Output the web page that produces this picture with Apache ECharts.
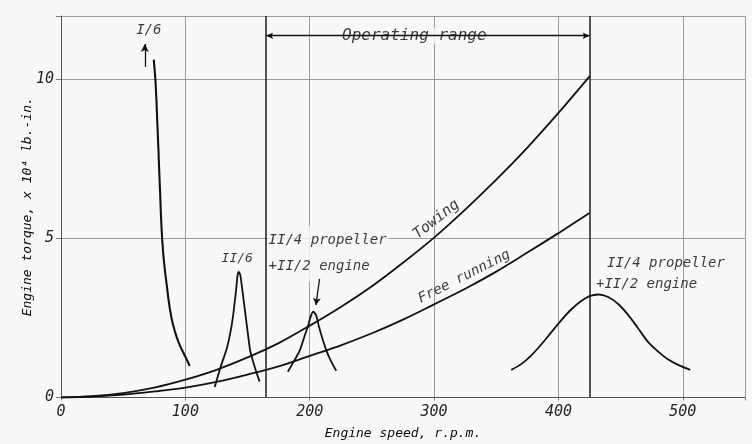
<!DOCTYPE html>
<html>
<head>
<meta charset="utf-8">
<script src="https://cdn.jsdelivr.net/npm/echarts@6/dist/echarts.min.js"></script>
<style>
  html, body { margin: 0; padding: 0; background: #f8f8f6; }
  #chart { width: 752px; height: 444px; }
</style>
</head>
<body>
<div id="chart"></div>
<script>
// Engine speed (r.p.m.) grid for the two load curves
const speedGrid = [0, 25, 50, 75, 100, 125, 150, 175, 200, 225, 250, 275, 300, 325, 350, 375, 400, 425];
// Engine torque, x10^4 lb.-in.
const towingTorque = [0, 0.04, 0.14, 0.31, 0.56, 0.87, 1.26, 1.71, 2.26, 2.85, 3.50, 4.24, 5.03, 5.91, 6.85, 7.86, 8.95, 10.1];
const freeRunningTorque = [0, 0.03, 0.09, 0.19, 0.31, 0.49, 0.72, 0.98, 1.31, 1.64, 2.02, 2.45, 2.93, 3.42, 3.96, 4.56, 5.17, 5.8];

// Resonance curves: [speed, torque]
const order1of6 = [[74.6, 10.63], [75.3, 10.3], [76, 9.95], [76.8, 9.3], [77.5, 8.6], [78.3, 7.85], [79, 7.1], [79.7, 6.45], [80.3, 5.8], [80.9, 5.3], [81.5, 4.9], [82.2, 4.52], [83, 4.2], [84, 3.85], [85, 3.55], [86.2, 3.15], [87.5, 2.8], [88.7, 2.53], [90, 2.3], [91.5, 2.09], [93, 1.9], [94.5, 1.74], [96, 1.6], [97.2, 1.5], [98.5, 1.4], [99.8, 1.3], [101, 1.2], [102.2, 1.1], [103.5, 0.99]];
const order2of6 = [[123.6, 0.33], [128.4, 0.97], [133, 1.5], [136, 2.0], [138.3, 2.55], [140.8, 3.39], [142, 3.85], [143, 3.95], [144.2, 3.85], [145.8, 3.39], [148.5, 2.55], [150.3, 2.0], [152, 1.5], [155.7, 0.97], [159.7, 0.5]];
const order2of4Low = [[182.4, 0.81], [187, 1.12], [192.2, 1.5], [196, 1.95], [198.5, 2.23], [200.8, 2.55], [203, 2.7], [205.2, 2.58], [207.4, 2.23], [210, 1.88], [213.2, 1.5], [217, 1.15], [221.3, 0.84]];
const order2of4High = [[362, 0.87], [370, 1.05], [378, 1.32], [386, 1.66], [394, 2.04], [402, 2.42], [410, 2.76], [418, 3.03], [425, 3.19], [432, 3.24], [440, 3.16], [448, 2.94], [456, 2.6], [464, 2.18], [472, 1.75], [480, 1.45], [488, 1.2], [497, 1.01], [506, 0.87]];

const operatingRange = [165, 425];
const xTickLabels = [0, 100, 200, 300, 400, 500];
const yTickLabels = [0, 5, 10];

const FONT = 'DejaVu Sans Mono';
const INK = '#111';
const TEXT = '#0a0a0a';
const BG = '#f8f8f6';

const chart = echarts.init(document.getElementById('chart'));

function curve(name, data, extra) {
  return Object.assign({
    name: name,
    type: 'line',
    data: data,
    showSymbol: false,
    smooth: 0.35,
    lineStyle: { color: INK, width: 1.8 },
    silent: true,
    z: 5
  }, extra || {});
}

function note(x, y, text, opts) {
  return {
    value: [x, y],
    label: Object.assign({
      show: true,
      formatter: text,
      position: 'inside',
      fontFamily: FONT,
      fontStyle: 'italic',
      fontSize: 14,
      color: TEXT
    }, opts || {})
  };
}

const option = {
  backgroundColor: BG,
  animation: false,
  grid: { left: 61, right: 7, top: 16, bottom: 46.5, containLabel: false, outerBoundsMode: 'none' },
  xAxis: {
    type: 'value',
    min: 0,
    max: 550,
    interval: 100,
    name: 'Engine speed, r.p.m.',
    nameLocation: 'middle',
    nameGap: 30,
    nameMoveOverlap: false,
    nameTextStyle: { fontFamily: FONT, fontStyle: 'italic', fontSize: 13, color: TEXT },
    axisLine: { show: true, lineStyle: { color: '#555', width: 1 } },
    axisTick: { show: true, length: 3, lineStyle: { color: '#777' } },
    axisLabel: {
      fontFamily: FONT, fontStyle: 'italic', fontSize: 15, color: '#222', margin: 7,
      formatter: v => (xTickLabels.indexOf(v) >= 0 ? String(v) : '')
    },
    splitLine: { show: true, lineStyle: { color: '#999', width: 1 } }
  },
  yAxis: {
    type: 'value',
    min: 0,
    max: 12,
    interval: 5,
    name: 'Engine torque, x 10\u2074 lb.-in.',
    nameLocation: 'middle',
    nameGap: 27,
    nameMoveOverlap: false,
    nameTextStyle: { fontFamily: FONT, fontStyle: 'italic', fontSize: 13, color: TEXT },
    axisLine: { show: true, lineStyle: { color: '#555', width: 1 } },
    axisTick: { show: true, length: 5, lineStyle: { color: '#777' } },
    axisLabel: {
      fontFamily: FONT, fontStyle: 'italic', fontSize: 15, color: '#222', margin: 7,
      padding: [6, 0, 0, 0],
      formatter: v => (yTickLabels.indexOf(v) >= 0 ? String(v) : '')
    },
    splitLine: { show: true, lineStyle: { color: '#999', width: 1 } }
  },
  series: [
    curve('Towing', speedGrid.map((s, i) => [s, towingTorque[i]]), {
      markLine: {
        silent: true,
        symbol: 'none',
        label: { show: false },
        lineStyle: { color: '#2a2a2a', width: 1.6, type: 'solid' },
        data: operatingRange.map(v => ({ xAxis: v }))
      }
    }),
    curve('Free running', speedGrid.map((s, i) => [s, freeRunningTorque[i]])),
    curve('I/6', order1of6, { smooth: false, lineStyle: { color: INK, width: 2.1 } }),
    curve('II/6', order2of6, { smooth: 0.2 }),
    curve('II/4 + II/2 low', order2of4Low, { smooth: 0.25 }),
    curve('II/4 + II/2 high', order2of4High, { smooth: 0.3 }),
    {
      name: 'annotations',
      type: 'scatter',
      symbolSize: 0,
      silent: true,
      z: 3,
      data: [
        note(70.6, 11.55, 'I/6'),
        note(141.7, 4.36, 'II/6', { fontSize: 13 }),
        note(166.1, 4.52, 'II/4 propeller\n+II/2 engine', {
          position: 'right', distance: 0, lineHeight: 26,
          backgroundColor: BG, padding: [2, 2, 2, 1]
        }),
        note(439, 4.22, 'II/4 propeller', { position: 'right', distance: 0 }),
        note(430.2, 3.55, '+II/2 engine', { position: 'right', distance: 0 }),
        note(301.8, 5.6, 'Towing', { rotate: 38, fontSize: 15 }),
        note(324.2, 3.8, 'Free running', { rotate: 27 }),
        note(284.1, 11.38, 'Operating range', { fontSize: 16, backgroundColor: BG, padding: [0, 4, 0, 4] })
      ],
      markLine: {
        silent: true,
        label: { show: false },
        lineStyle: { color: INK, width: 1.3, type: 'solid' },
        data: [
          [
            { coord: [operatingRange[0], 11.38], symbol: 'arrow', symbolSize: [5, 7] },
            { coord: [operatingRange[1], 11.38], symbol: 'arrow', symbolSize: [5, 7] }
          ],
          [
            { coord: [67.4, 10.4], symbol: 'none' },
            { coord: [67.4, 11.12], symbol: 'arrow', symbolSize: [6, 8] }
          ],
          [
            { coord: [207.9, 3.73], symbol: 'none' },
            { coord: [205, 2.91], symbol: 'arrow', symbolSize: [6, 7] }
          ]
        ]
      }
    }
  ]
};

chart.setOption(option);
</script>
</body>
</html>
